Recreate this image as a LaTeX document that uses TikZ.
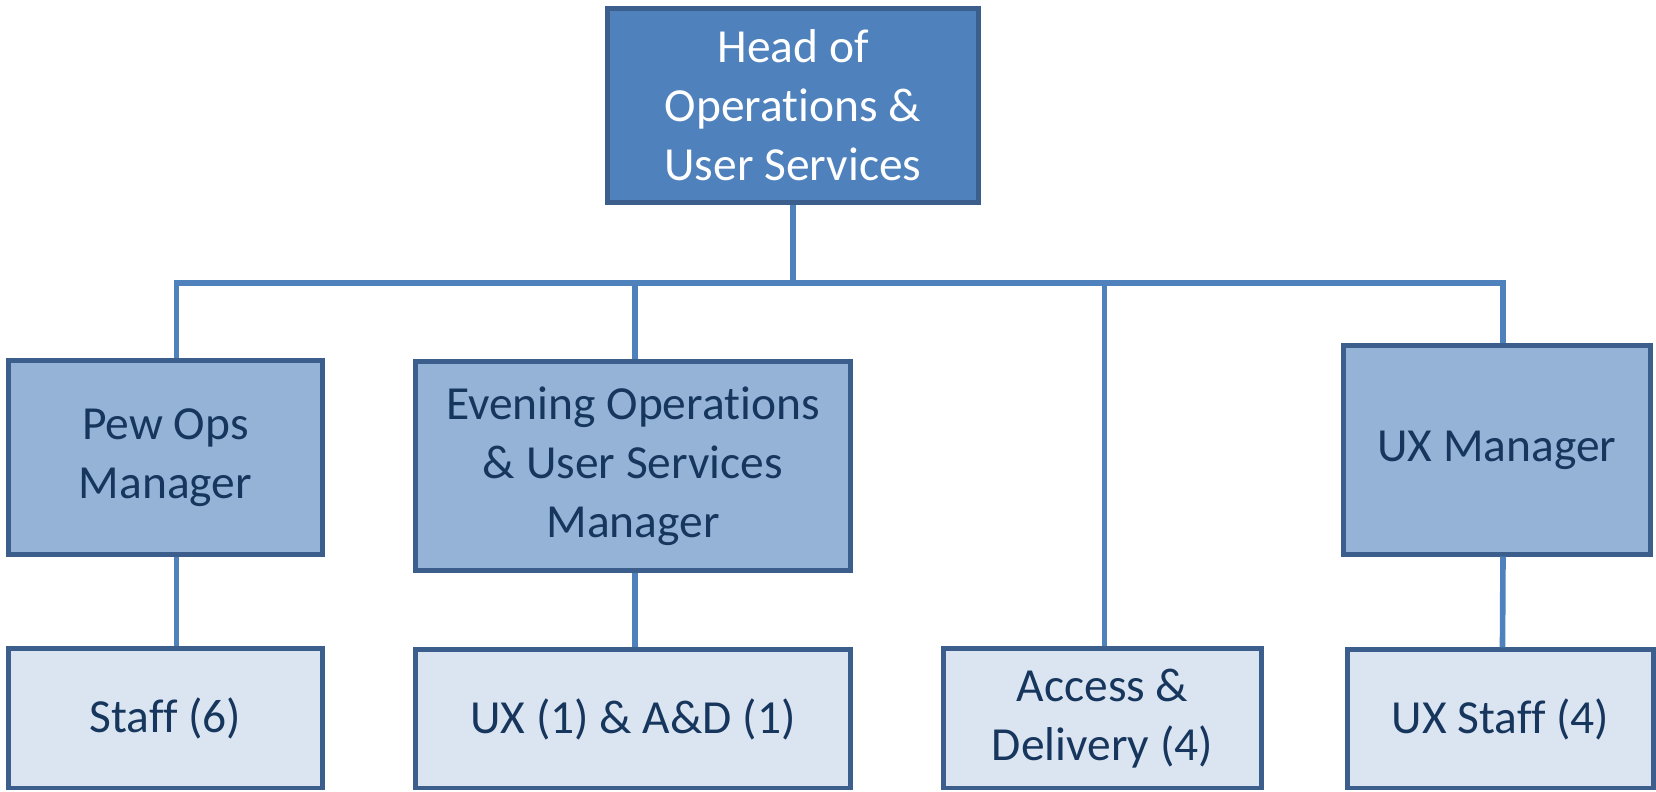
\documentclass[tikz,border=0pt]{standalone}
\usepackage{fontspec}
\setmainfont{Carlito}[Ligatures=NoCommon]
\usetikzlibrary{positioning}
\definecolor{headblue}{HTML}{4F81BD}
\definecolor{midblue}{HTML}{95B3D7}
\definecolor{lowblue}{HTML}{DBE5F1}
\definecolor{edgeblue}{HTML}{3B5E8C}
\definecolor{textnavy}{HTML}{17365D}
\tikzset{
	every node/.style={shape=rectangle,line width=1.4pt,draw=edgeblue,inner sep=0pt,align=center,
		font=\fontsize{13.5}{16.8}\selectfont,text=textnavy},
	head-node/.style={fill=headblue,text=white},
	mid-node/.style={fill=midblue},
	low-node/.style={fill=lowblue},
	link/.style={line width=1.6pt,draw=headblue},
}

\begin{document}
\begin{tikzpicture}[x=0.01cm,y=-0.01cm]
						\useasboundingbox (0,0) rectangle (1656,792);
						\node[head-node,minimum width=3.70cm,minimum height=1.94cm] (head) at (793,105.5) {Head of\\Operations \&\\User Services};
						
						\node[mid-node,minimum width=3.13cm,minimum height=1.93cm] (pew) at (165.5,457.5) {Pew Ops\\Manager};
						\node[mid-node,minimum width=4.34cm,minimum height=2.08cm] (evening) at (633,466) {Evening Operations\\\& User Services\\Manager};
						\node[mid-node,minimum width=3.06cm,minimum height=2.08cm] (uxman) at (1497,450) {UX Manager};
						
						\node[low-node,minimum width=3.13cm,minimum height=1.39cm] (staff) at (165.5,718.5) {Staff (6)};
						\node[low-node,minimum width=4.34cm,minimum height=1.38cm] (uxad) at (633,719) {UX (1) \& A\&D (1)};
						\node[low-node,minimum width=3.17cm,minimum height=1.39cm] (access) at (1102.5,718.5) {Access \&\\Delivery (4)};
						\node[low-node,minimum width=3.05cm,minimum height=1.38cm] (uxstaff) at (1500.5,719) {UX Staff (4)};
						
						\draw[link] (head.south) -- ++(0,78) coordinate (bar);
						\draw[link] ([xshift=0.11cm]pew.north) |- (bar);
						\draw[link] ([xshift=0.02cm]evening.north) |- (bar);
						\draw[link] ([xshift=0.02cm]access.north) |- (bar);
						\draw[link] ([xshift=0.06cm]uxman.north) |- (bar);
						\draw[link] ([xshift=0.11cm]pew.south) -- ([xshift=0.11cm]staff.north);
						\draw[link] ([xshift=0.02cm]evening.south) -- ([xshift=0.02cm]uxad.north);
						\draw[link] ([xshift=0.06cm]uxman.south) -- ([xshift=0.02cm]uxstaff.north);
					\end{tikzpicture}
\end{document}
